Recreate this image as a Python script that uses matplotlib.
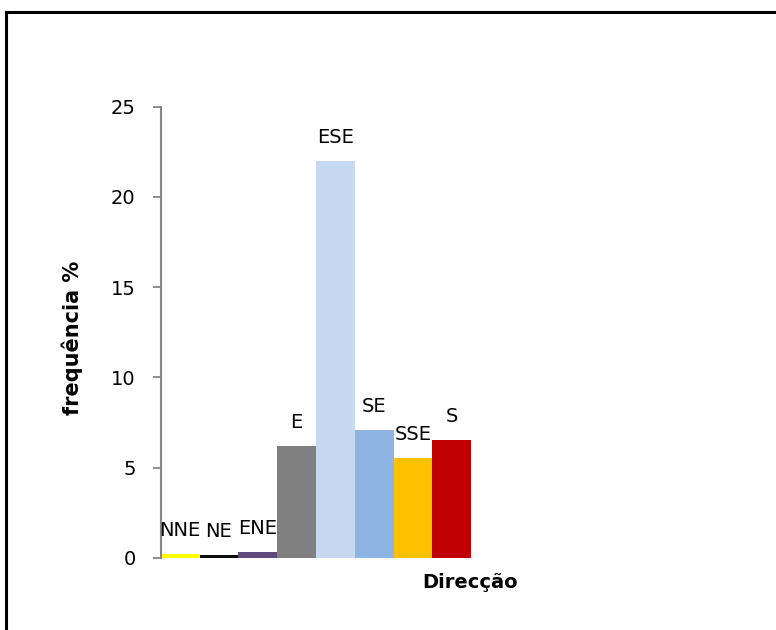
import matplotlib
matplotlib.use("Agg")
import matplotlib.pyplot as plt
from matplotlib.lines import Line2D

# wind direction frequencies (%)
directions = ["NNE", "NE", "ENE", "E", "ESE", "SE", "SSE", "S"]
frequency = [0.2, 0.15, 0.3, 6.2, 22.0, 7.1, 5.5, 6.5]
bar_colors = ["#FFFF00", "#0D0D0D", "#604A7B", "#808080",
              "#C6D9F1", "#8EB4E3", "#FFC000", "#C00000"]
yticks = [0, 5, 10, 15, 20, 25]

plt.rcParams["font.family"] = ["DejaVu Sans"]

W, H = 776, 630
fig = plt.figure(figsize=(W / 100, H / 100), dpi=100)

# plot area in pixel coordinates
left, right, top, bottom = 160.7, 774, 106.7, 557.7
ax = fig.add_axes([left / W, 1 - bottom / H, (right - left) / W, (bottom - top) / H])

x = list(range(len(directions)))
bars = ax.bar(x, frequency, width=1.0, align="edge", color=bar_colors, linewidth=0)

for rect, name in zip(bars, directions):
    ax.annotate(name, (rect.get_x() + rect.get_width() / 2, rect.get_height()),
                xytext=(0, 13), textcoords="offset points",
                ha="center", va="baseline", fontsize=14, color="black")

ax.set_xlim(0, (right - left) / 38.8)
ax.set_ylim(0, 25)
ax.set_yticks(yticks)
ax.tick_params(axis="y", direction="out", length=6, width=1.3, color="#868686",
               labelsize=14, pad=12)
ax.set_xticks([])
for side in ["top", "right", "bottom"]:
    ax.spines[side].set_visible(False)
ax.spines["left"].set_color("#868686")
ax.spines["left"].set_linewidth(1.5)

fig.text(72 / W, 1 - 338 / H, "frequência %", rotation=90, ha="center", va="center",
         fontsize=15, fontweight="bold")
fig.text(470 / W, 1 - 588 / H, "Direcção", ha="center", va="baseline",
         fontsize=14, fontweight="bold")

# chart border (clipped on right and bottom)
fig.add_artist(Line2D([5.5 / W, 5.5 / W], [1 - 12 / H, 0], transform=fig.transFigure,
                      color="black", linewidth=2.2))
fig.add_artist(Line2D([5.5 / W, 1], [1 - 12 / H, 1 - 12 / H], transform=fig.transFigure,
                      color="black", linewidth=2.2, solid_capstyle="projecting"))

fig.savefig("out.png", dpi=100)
